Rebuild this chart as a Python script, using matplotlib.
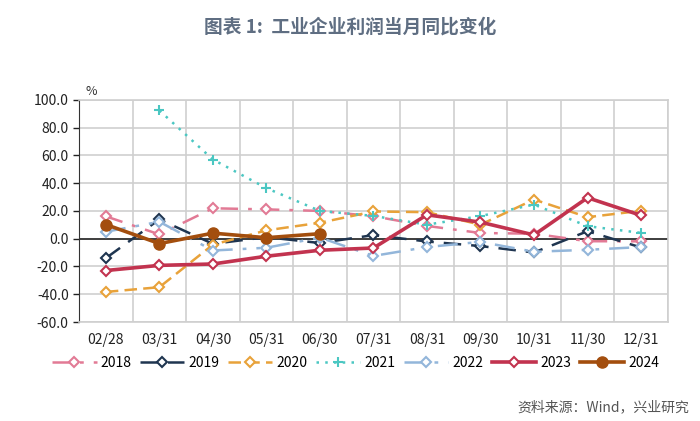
import numpy as np
import matplotlib.pyplot as plt

plt.rcParams['font.family'] = ['Noto Sans CJK SC', 'DejaVu Sans']

# 月份及各年当月同比（%）
months = ['02/28', '03/31', '04/30', '05/31', '06/30', '07/31',
          '08/31', '09/30', '10/31', '11/30', '12/31']
y2018 = [16.1, 3.1, 21.9, 21.1, 20.0, 16.2, 9.2, 4.1, 3.6, -1.8, -1.9]
y2019 = [-14.0, 13.9, -3.7, 1.1, -3.1, 2.6, -2.0, -5.3, -9.9, 5.4, -6.3]
y2020 = [-38.3, -34.9, -4.3, 6.0, 11.5, 19.6, 19.1, 10.1, 28.2, 15.5, 20.1]
y2021 = [np.nan, 92.3, 57.0, 36.4, 20.0, 16.4, 10.1, 16.3, 24.6, 9.0, 4.2]
y2022 = [5.0, 12.2, -8.5, -6.5, 0.8, -12.4, -6.0, -2.3, -9.4, -8.0, -6.0]
y2023 = [-22.9, -19.2, -18.2, -12.6, -8.3, -6.7, 17.2, 11.9, 2.7, 29.5, 16.8]
y2024 = [10.2, -3.5, 4.0, 0.7, 3.6]

x = np.arange(len(months))

fig = plt.figure(figsize=(7, 4.21), dpi=100)
ax = fig.add_axes([0.113, 0.235, 0.841, 0.528])

# 各序列：颜色、线型、标记
ax.plot(x, y2018, color='#E27A95', lw=1.8, dashes=[7, 4, 1.5, 4],
        marker='D', ms=5, mfc='white', mew=1.5, label='2018')
ax.plot(x, y2019, color='#1F3550', lw=1.8, dashes=[7, 4],
        marker='D', ms=5, mfc='white', mew=1.5, label='2019')
ax.plot(x, y2020, color='#E8A23A', lw=1.8, dashes=[5, 2.5],
        marker='D', ms=5, mfc='white', mew=1.5, label='2020')
ax.plot(x, y2021, color='#4BC7C2', lw=1.8, ls=(0, (1, 2.5)),
        marker='+', ms=7, mew=1.5, label='2021')
ax.plot(x, y2022, color='#93B6DA', lw=1.8, dashes=[8, 4, 1.5, 4, 1.5, 4],
        marker='D', ms=5, mfc='white', mew=1.5, label='2022')
ax.plot(x, y2023, color='#C2334F', lw=2.6, marker='D', ms=5,
        mfc='white', mew=1.5, label='2023')
ax.plot(x[:len(y2024)], y2024, color='#A34E0E', lw=2.6, marker='o',
        ms=8, label='2024')

ax.set_xlim(-0.5, len(months) - 0.5)
ax.set_ylim(-60, 100)
ax.set_yticks(np.arange(-60, 101, 20))
ax.set_yticklabels([f'{v:.1f}' for v in np.arange(-60, 101, 20)])
ax.set_xticks(x)
ax.set_xticklabels(months)
ax.set_xticks(np.arange(-0.5, len(months), 1), minor=True)

ax.grid(True, which='major', axis='y', color='#CFCFCF', lw=1.2)
ax.grid(True, which='minor', axis='x', color='#CFCFCF', lw=1.2)
ax.set_axisbelow(True)
ax.axhline(0, color='#333333', lw=1.3, zorder=1.5)

ax.tick_params(axis='x', which='both', length=0, labelsize=10, colors='#222222', pad=8)
ax.tick_params(axis='y', length=4, labelsize=10, colors='#222222', width=1)
for side in ['top', 'right', 'bottom']:
    ax.spines[side].set_color('#CFCFCF')
    ax.spines[side].set_linewidth(1.2)
ax.spines['left'].set_color('#333333')

ax.text(-0.38, 101, '%', fontsize=9, color='#333333', va='bottom')

fig.text(0.5, 0.935, '图表 1:  工业企业利润当月同比变化', ha='center', va='center',
         fontsize=13.5, fontweight='bold', color='#5F6E82')

fig.legend(loc='center', bbox_to_anchor=(0.508, 0.138), ncol=7, frameon=False,
           fontsize=10, handlelength=3.2, handletextpad=0.3, columnspacing=0.6)

fig.text(0.985, 0.033, '资料来源：Wind，兴业研究', ha='right', va='center',
         fontsize=10, color='#555555')

fig.savefig('out.png', dpi=100)
